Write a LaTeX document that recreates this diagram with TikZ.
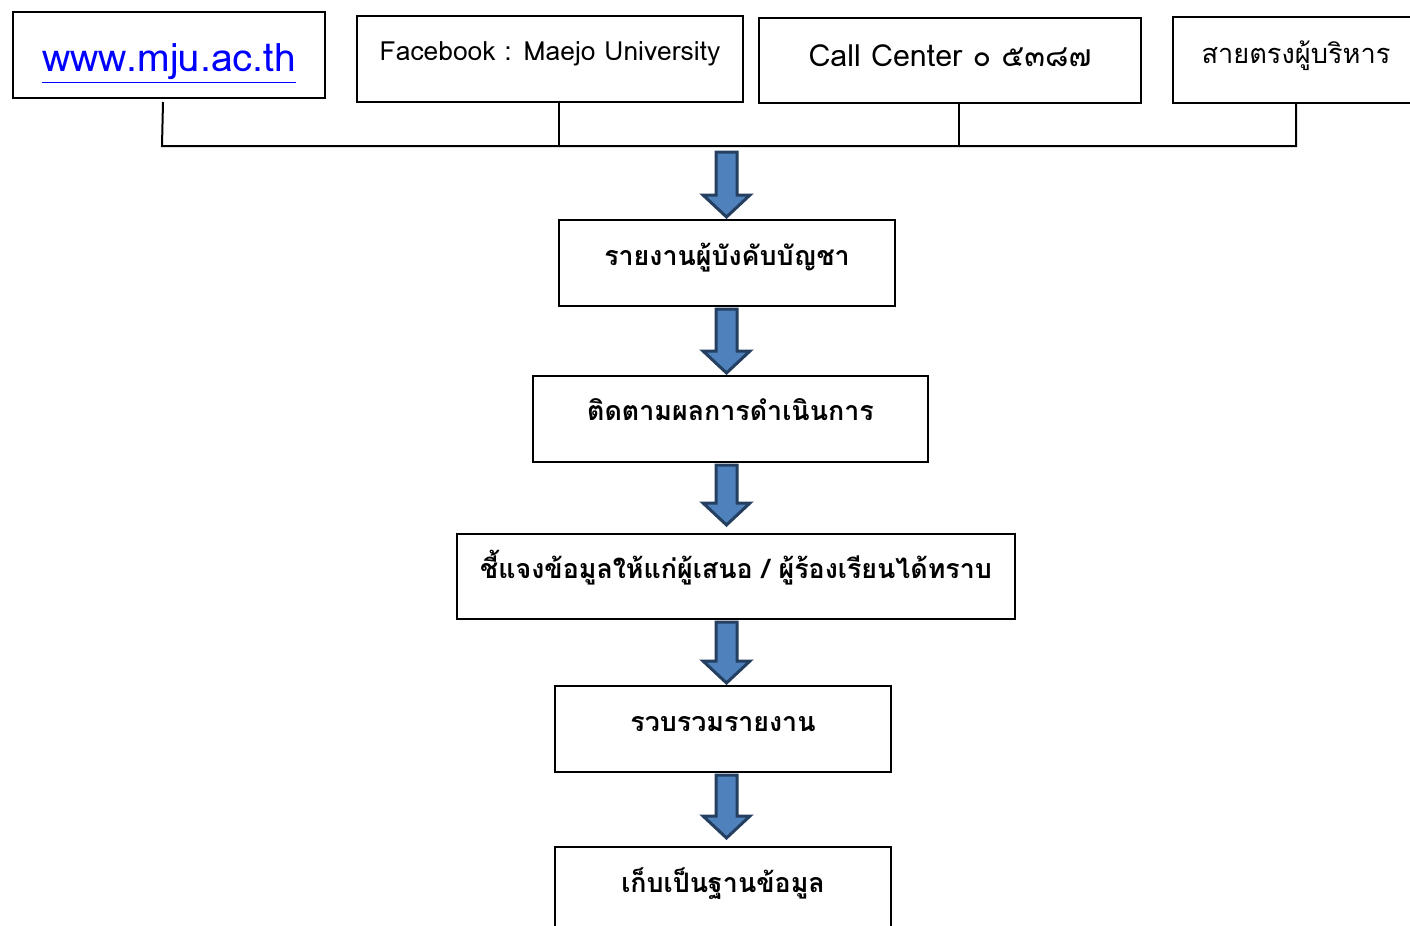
\documentclass[tikz,border=0pt]{standalone}
\usepackage{fontspec}
\setmainfont{Loma}[Script=Thai]
\usetikzlibrary{calc}
\definecolor{arrowfill}{HTML}{4F81BD}
\definecolor{arrowline}{HTML}{243F60}
\newcommand{\blockarrow}[3][2]{%
  \draw[fatarrow] ($#2+(-10.5,#1)$) -- ($#3+(-10.5,-24)$) -- ($#3+(-23.5,-24)$)
    -- ($#3+(0,-2)$) -- ($#3+(23.5,-24)$) -- ($#3+(10.5,-24)$)
    -- ($#2+(10.5,#1)$) -- cycle;}
\begin{document}
\begin{tikzpicture}[x=0.5pt,y=-0.5pt,
    stepbox/.style={draw,line width=1pt,inner sep=0pt,anchor=north west,
      text height=22.5pt,text depth=20.5pt,font=\bfseries\fontsize{13.4}{15}\selectfont},
    bus/.style={line width=1pt},
    fatarrow/.style={fill=arrowfill,draw=arrowline,line width=1.5pt,line join=miter}]
    \useasboundingbox (0,0) rectangle (1410,926);
    %channels
    \node[stepbox,minimum width=156pt,text height=29.5pt,text depth=13.5pt,
      font=\fontsize{19.5}{22}\selectfont,text=blue] (web) at (12,11) {\underline{www.mju.ac.th}};
    \node[stepbox,minimum width=193pt,font=\fontsize{13.2}{15}\selectfont] (fb) at (356,15)
      {Facebook : Maejo University};
    \node[stepbox,minimum width=191pt,text height=24pt,text depth=18.5pt,
      font=\fontsize{15.2}{17}\selectfont] (call) at (758,17) {Call Center ๐ ๕๓๘๗};
    \node[stepbox,minimum width=123pt,text height=23pt,text depth=20pt,
      font=\fontsize{13.6}{15}\selectfont] (direct) at (1172,16) {สายตรงผู้บริหาร};
    %bus
    \coordinate (bus) at (162,146);
    \coordinate (spine) at (726.5,0);
    \draw[bus] ([xshift=-3pt,yshift=-1.5pt]web.south) -- (bus) -- (bus -| direct.south) -- (direct.south);
    \draw[bus] ([xshift=4.5pt]fb.south) -- ([xshift=4.5pt]fb.south |- bus);
    \draw[bus] ([xshift=4.5pt]call.south) -- ([xshift=4.5pt]call.south |- bus);
    %steps
    \node[stepbox,minimum width=168pt] (report) at (558,219) {รายงานผู้บังคับบัญชา};
    \node[stepbox,minimum width=197.5pt,text height=22pt,text depth=21pt] (follow) at (532,375)
      {ติดตามผลการดำเนินการ};
    \node[stepbox,minimum width=279pt,text height=22pt,text depth=20.5pt] (explain) at (456,533)
      {ชี้แจงข้อมูลให้แก่ผู้เสนอ / ผู้ร้องเรียนได้ทราบ};
    \node[stepbox,minimum width=168pt] (collect) at (554,685) {รวบรวมรายงาน};
    \node[stepbox,minimum width=168pt] (store) at (554,846) {เก็บเป็นฐานข้อมูล};
    %arrows
    \blockarrow[6]{(bus -| spine)}{(report.north -| spine)}
    \blockarrow{(report.south -| spine)}{(follow.north -| spine)}
    \blockarrow{(follow.south -| spine)}{([yshift=3pt]explain.north -| spine)}
    \blockarrow{(explain.south -| spine)}{(collect.north -| spine)}
    \blockarrow{(collect.south -| spine)}{([yshift=3pt]store.north -| spine)}
\end{tikzpicture}
\end{document}
